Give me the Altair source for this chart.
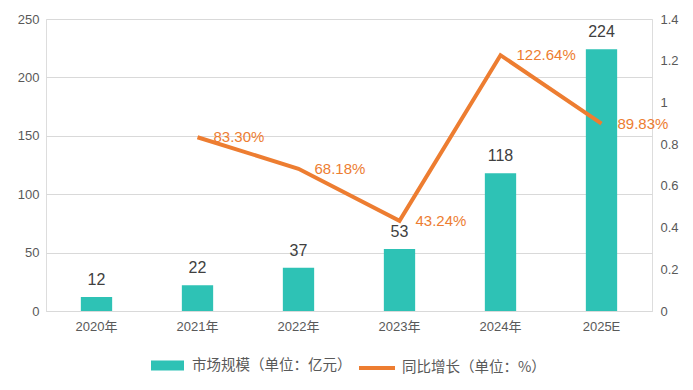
import altair as alt
import pandas as pd

years = ["2020年", "2021年", "2022年", "2023年", "2024年", "2025E"]
market = [12, 22, 37, 53, 118, 224]
growth = [None, 0.8330, 0.6818, 0.4324, 1.2264, 0.8983]
growth_labels = ["", "83.30%", "68.18%", "43.24%", "122.64%", "89.83%"]
bar_name = "市场规模（单位：亿元）"
line_name = "同比增长（单位：%）"

df = pd.DataFrame({
    "year": years,
    "market": market,
    "growth": growth,
    "glabel": growth_labels,
    "s1": [bar_name] * 6,
    "s2": [line_name] * 6,
})

TEAL = "#2EC2B5"
ORANGE = "#ED7D31"
AXIS_C = "#595959"
FONT = "Liberation Sans, Noto Sans CJK SC"
CJK = "Noto Sans CJK SC"

xenc = alt.X("year:N", sort=years,
             scale=alt.Scale(paddingInner=0.69, paddingOuter=0.345),
             axis=alt.Axis(title=None, labelAngle=0, ticks=False, domainColor="#D9D9D9",
                           labelColor=AXIS_C, labelFont=FONT, labelFontSize=13, labelPadding=9))

ybar = alt.Y("market:Q", scale=alt.Scale(domain=[0, 250], nice=False),
             axis=alt.Axis(title=None, values=[0, 50, 100, 150, 200, 250], domain=False, ticks=False,
                           gridColor="#D9D9D9", labelColor=AXIS_C, labelFont=FONT,
                           labelFontSize=13, labelPadding=7))

base = alt.Chart(df)

bars = base.mark_bar().encode(
    x=xenc,
    y=ybar,
    color=alt.Color("s1:N", scale=alt.Scale(domain=[bar_name], range=[TEAL]),
                    legend=alt.Legend(title=None, orient="none", legendX=104, legendY=329,
                                      symbolType="M-1,-0.3H1V0.3H-1Z", symbolSize=1089,
                                      symbolOpacity=1, labelFont=CJK, labelFontSize=14.5,
                                      labelColor=AXIS_C, labelOffset=7, labelLimit=0)),
)

bar_text = base.mark_text(dy=-12, baseline="alphabetic", fontSize=16, color="#404040",
                          font=FONT).encode(
    x=alt.X("year:N", sort=years),
    y=alt.Y("market:Q"),
    text=alt.Text("market:Q"),
)

left = alt.layer(bars, bar_text)

yline = alt.Y("growth:Q", scale=alt.Scale(domain=[0, 1.4], nice=False),
              axis=alt.Axis(title=None, orient="right", values=[0, 0.2, 0.4, 0.6, 0.8, 1.0, 1.2, 1.4],
                            format=".1~f", grid=False, domain=False, ticks=False,
                            labelColor=AXIS_C, labelFont=FONT, labelFontSize=13, labelPadding=8))

line_base = base.transform_filter("isValid(datum.growth)")

line = line_base.mark_line(strokeWidth=4).encode(
    x=alt.X("year:N", sort=years),
    y=yline,
    stroke=alt.Stroke("s2:N", scale=alt.Scale(domain=[line_name], range=[ORANGE]),
                      legend=alt.Legend(title=None, orient="none", legendX=311, legendY=329,
                                        symbolType="stroke", symbolSize=1296, symbolStrokeWidth=4,
                                        labelFont=CJK, labelFontSize=14.5,
                                        labelColor=AXIS_C, labelOffset=5, labelLimit=0)),
)

line_text = line_base.mark_text(align="left", baseline="middle", dx=16, fontSize=15,
                                color=ORANGE, font=FONT).encode(
    x=alt.X("year:N", sort=years),
    y=alt.Y("growth:Q"),
    text="glabel:N",
)

right = alt.layer(line, line_text)

chart = alt.layer(left, right).resolve_scale(y="independent", color="independent",
                                             stroke="independent").properties(
    width=606, height=292,
    autosize=alt.AutoSizeParams(type="none"),
    padding={"left": 38, "top": 11, "right": 33, "bottom": 71},
).configure_view(stroke=None).configure(background="white")

chart.save("out.html", embed_options={"renderer": "svg", "actions": False})
